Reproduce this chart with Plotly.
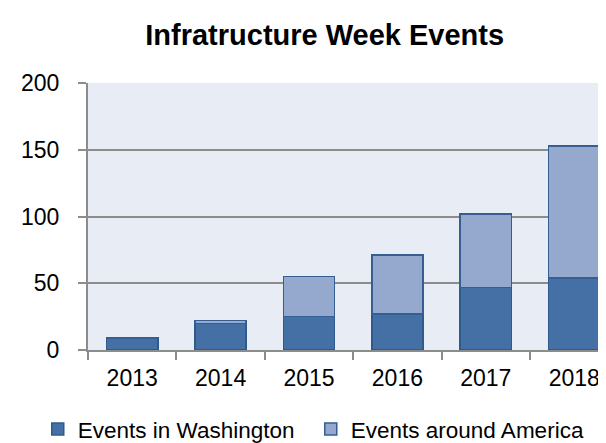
import plotly.graph_objects as go

years = ["2013", "2014", "2015", "2016", "2017", "2018"]
washington = [9, 20, 25, 27, 47, 54]
around_america = [0, 2, 30, 44, 55, 99]
y_ticks = [0, 50, 100, 150, 200]

fig = go.Figure()
fig.add_trace(go.Bar(
    x=years, y=washington, name="Events in Washington",
    marker=dict(color="#4470A5", line=dict(color="#2F5A8C", width=1.5)),
))
fig.add_trace(go.Bar(
    x=years, y=around_america, name="Events around America",
    marker=dict(color="#95A9CF", line=dict(color="#355E92", width=1.5)),
))

fig.update_layout(
    barmode="stack",
    bargap=0.42,
    width=606, height=443,
    margin=dict(l=80, r=0, t=75, b=92),
    paper_bgcolor="white",
    plot_bgcolor="#E8ECF5",
    font=dict(family="Liberation Sans, Arial", size=23, color="black"),
    title=dict(text="<b>Infratructure Week Events</b>", x=0.5226, xanchor="center",
               xref="container", yref="container",
               y=0.94, yanchor="middle", font=dict(size=29)),
    legend=dict(orientation="h", xref="paper", yref="paper",
                x=-0.0955, xanchor="left", y=-0.297, yanchor="middle",
                font=dict(size=22.5), traceorder="normal", itemwidth=30,
                entrywidth=228, entrywidthmode="pixels",
                bgcolor="rgba(0,0,0,0)"),
    showlegend=True,
)
fig.update_xaxes(
    type="category", range=[-0.5, 5.45],
    showline=True, linecolor="#8C8C8C", linewidth=2,
    ticks="outside", tickson="boundaries", ticklen=8, tickcolor="#8C8C8C", tickwidth=2,
    ticklabelstandoff=6,
    showgrid=False, tickfont=dict(size=23),
)
fig.update_yaxes(
    range=[0, 200], tickvals=y_ticks,
    showgrid=True, gridcolor="#8C8C8C", gridwidth=1.5,
    showline=True, linecolor="#8C8C8C", linewidth=2,
    ticks="outside", ticklen=8, tickcolor="#8C8C8C", tickwidth=2,
    ticklabelstandoff=14,
    zeroline=False, tickfont=dict(size=23),
)
fig.write_html("out.html")
